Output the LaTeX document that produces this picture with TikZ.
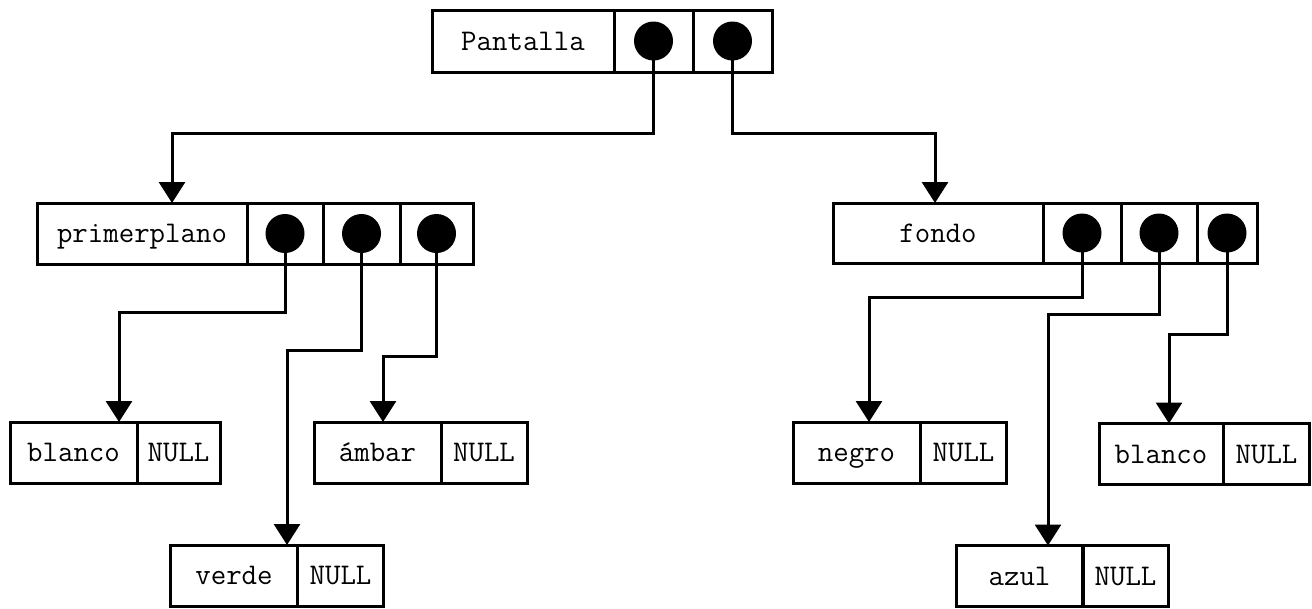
\documentclass[tikz,border=0pt]{standalone}
\usepackage{fontspec}
\usetikzlibrary{arrows.meta}
\begin{document}
\begin{tikzpicture}[x=1pt,y=-1pt,
  cell/.style={draw=black, line width=3pt, minimum height=61pt, inner sep=0pt, outer sep=0pt,
    text height=22pt, text depth=4pt,
    font=\ttfamily\fontsize{30}{32}\selectfont},
  lab/.style={cell, minimum width=127pt},
  nul/.style={cell, minimum width=86pt},
  dot/.style={circle, fill=black, minimum size=39pt, inner sep=0pt},
  conn/.style={line width=3pt, -{Triangle[width=26pt,length=21pt]}}]
\useasboundingbox (0,0) rectangle (1312,608);
% Pantalla
\node[cell, minimum width=182pt, minimum height=62pt] (pant) at (523,41) {Pantalla};
\node[cell, minimum width=79pt, minimum height=62pt] (pant1) at (653.5,41) {};
\node[cell, minimum width=79pt, minimum height=62pt] (pant2) at (732.5,41) {};
% primerplano
\node[cell, minimum width=210pt] (prim) at (142,233.5) {primerplano};
\node[cell, minimum width=76pt] (prim1) at (285,233.5) {};
\node[cell, minimum width=77pt] (prim2) at (361.5,233.5) {};
\node[cell, minimum width=73pt] (prim3) at (436.5,233.5) {};
% fondo
\node[cell, minimum width=210pt, minimum height=60pt] (fondo) at (938,233) {fondo};
\node[cell, minimum width=78pt, minimum height=60pt] (fondo1) at (1082,233) {};
\node[cell, minimum width=76pt, minimum height=60pt] (fondo2) at (1159,233) {};
\node[cell, minimum width=60pt, minimum height=60pt] (fondo3) at (1227,233) {};
% leaves
\node[lab] (blL) at (73.5,452.5) {blanco};
\node[nul, minimum width=83pt] (blLn) at (178.5,452.5) {NULL};
\node[lab] (amb) at (377.5,452.5) {ámbar};
\node[nul] (ambn) at (484,452.5) {NULL};
\node[lab] (ver) at (234,575.5) {verde};
\node[nul] (vern) at (340.5,575.5) {NULL};
\node[lab] (neg) at (856.5,452.5) {negro};
\node[nul] (negn) at (963.5,452.5) {NULL};
\node[lab, minimum width=124pt] (blR) at (1161,454) {blanco};
\node[nul] (blRn) at (1266.5,454) {NULL};
\node[lab] (azu) at (1019.5,576) {azul};
\node[nul] (azun) at (1125.5,576) {NULL};
% connectors
\draw[conn] (pant1.center) |- (172,133) -- (172,0 |- prim.north);
\draw[conn] (pant2.center) |- (935,133) -- (935,0 |- fondo.north);
\draw[conn] (prim1.center) |- (119,312) -- (119,0 |- blL.north);
\draw[conn] (prim2.center) |- (287,350) -- (287,0 |- ver.north);
\draw[conn] (prim3.center) |- (383,356) -- (383,0 |- amb.north);
\draw[conn] (fondo1.center) |- (869,297) -- (869,0 |- neg.north);
\draw[conn] (fondo2.center) |- (1048,314) -- (1048,0 |- azu.north);
\draw[conn] (fondo3.center) |- (1169,334) -- (1169,0 |- blR.north);
% dots
\foreach \c in {pant1,pant2,prim1,prim2,prim3,fondo1,fondo2,fondo3}
  \node[dot] (\c d) at (\c.center) {};
\end{tikzpicture}
\end{document}
